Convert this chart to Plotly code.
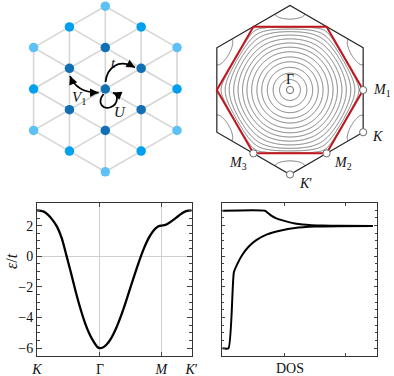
import numpy as np
import plotly.graph_objects as go

# ---- band structure along K - Gamma - M - K'
path_ticks = [0.0, 0.407, 0.804, 1.0]
path_labels = ['<i>K</i>', 'Γ', '<i>M</i>', '<i>K</i>′']
band_x = [0, 0.04, 0.07, 0.10, 0.13, 0.16, 0.19, 0.22, 0.25, 0.28, 0.31, 0.34, 0.37, 0.39,
          0.407, 0.425, 0.45, 0.48, 0.51, 0.54, 0.57, 0.60, 0.63, 0.66, 0.69, 0.72, 0.75,
          0.78, 0.804, 0.83, 0.86, 0.90, 0.94, 0.97, 1.0]
band_e = [3.0, 2.93, 2.72, 2.38, 1.92, 1.18, 0.06, -1.1, -2.3, -3.4, -4.35, -5.1, -5.65, -5.93,
          -6.0, -5.96, -5.77, -5.35, -4.74, -3.98, -3.11, -2.17, -1.23, -0.33, 0.48, 1.15, 1.64,
          1.93, 2.0, 2.05, 2.22, 2.52, 2.82, 2.96, 3.0]
e_ticks = [-6, -4, -2, 0, 2]

# ---- DOS panel curves
dos_upper_x = [0, 0.276, 0.30, 0.32, 0.35, 0.385, 0.43, 0.47, 0.52, 0.58, 0.65, 0.75, 0.974]
dos_upper_e = [2.96, 2.96, 2.78, 2.63, 2.47, 2.35, 2.22, 2.13, 2.06, 2.02, 2.0, 1.98, 1.97]
dos_lower_x = [0, 0.04, 0.075, 0.10, 0.13, 0.17, 0.22, 0.29, 0.38, 0.47, 0.60, 0.75, 0.974]
dos_lower_e = [-6.0, -6.0, -1.05, -0.45, 0.1, 0.62, 1.05, 1.42, 1.68, 1.84, 1.93, 1.96, 1.97]

# ---- triangular lattice: colour per neighbour shell (onsite+NN, sqrt3, 2)
shell_colors = ['#1170b4', '#00a0ee', '#5ec1f5']
hopping = 1.0

# ---- Brillouin zone contour levels (energies) and labelled points
ring_levels = [-5.6, -5.0, -4.25, -3.4, -2.6, -1.7, -0.9, -0.2, 0.45, 1.0, 1.45, 1.75, 1.93, 2.6]
hs_names = ['Γ', '<i>M</i><sub>1</sub>', '<i>K</i>', '<i>M</i><sub>2</sub>', '<i>K</i>′', '<i>M</i><sub>3</sub>']
hs_kind = ['G', 'M', 'K', 'M', 'K', 'M']
hs_angle = [0, 0, -30, -60, -90, -120]

SERIF = 'Liberation Serif'
W, H = 394, 376

fig = go.Figure()

# ---------------- lattice panel ----------------
a_vecs = np.array([[0.0, 1.0], [np.sqrt(3) / 2, 0.5]])
sites, cols = [], []
for n1 in range(-3, 4):
    for n2 in range(-3, 4):
        p = n1 * a_vecs[0] + n2 * a_vecs[1]
        d = np.hypot(*p)
        if d < 2.01:
            sites.append(p)
            cols.append(shell_colors[0] if d < 1.01 else shell_colors[1] if d < 1.8 else shell_colors[2])
sites = np.array(sites)
bx, by = [], []
for i in range(len(sites)):
    for j in range(i + 1, len(sites)):
        if abs(np.hypot(*(sites[i] - sites[j])) - 1) < 1e-6:
            bx += [sites[i][0], sites[j][0], None]
            by += [sites[i][1], sites[j][1], None]
fig.add_trace(go.Scatter(x=bx, y=by, mode='lines', line=dict(color='#d6d6d6', width=1.6),
                         xaxis='x', yaxis='y', hoverinfo='skip'))
fig.add_trace(go.Scatter(x=sites[:, 0], y=sites[:, 1], mode='markers',
                         marker=dict(size=9.5, color=cols), xaxis='x', yaxis='y'))

# ---------------- Brillouin zone panel ----------------
kx = np.linspace(-3.8, 3.8, 230)
ky = np.linspace(-4.35, 4.35, 260)
KX, KY = np.meshgrid(kx, ky)
nn = [(0, 1), (np.sqrt(3) / 2, 0.5), (np.sqrt(3) / 2, -0.5)]
eps = -2 * hopping * sum(np.cos(KX * ax_ + KY * ay_) for ax_, ay_ in nn)
lv = np.arange(1, len(ring_levels) + 1)
zmap = np.interp(eps, [-7] + ring_levels + [4], np.concatenate([[0], lv, [len(lv) + 1]]))
fig.add_trace(go.Contour(x=kx, y=ky, z=np.round(zmap, 3), xaxis='x2', yaxis='y2',
                         contours=dict(coloring='none', start=1, end=len(ring_levels), size=1),
                         line=dict(color='#7a7a7a', width=1), showscale=False, hoverinfo='skip'))

rK = 4 * np.pi / 3
rM = 2 * np.pi / np.sqrt(3)
hexK = [(rK * np.cos(np.radians(30 + 60 * j)), rK * np.sin(np.radians(30 + 60 * j))) for j in range(6)]
hexM = [(rM * np.cos(np.radians(60 * j)), rM * np.sin(np.radians(60 * j))) for j in range(6)]


def poly(pts):
    return 'M ' + ' L '.join(f'{x:.4f},{y:.4f}' for x, y in pts) + ' Z'


shapes = []
shapes.append(dict(type='path', xref='x2', yref='y2', layer='above', fillrule='evenodd',
                   path='M -20,-20 L 20,-20 L 20,20 L -20,20 Z ' + poly(hexK),
                   fillcolor='white', line=dict(width=0)))
shapes.append(dict(type='path', xref='x2', yref='y2', layer='above', path=poly(hexK),
                   line=dict(color='#222222', width=1.2)))
shapes.append(dict(type='path', xref='x2', yref='y2', layer='above', path=poly(hexM),
                   line=dict(color='#c0161c', width=2)))

annotations = []
label_off = {'Γ': (0, 11, 'center'), '<i>M</i><sub>1</sub>': (8, 0, 'left'), '<i>K</i>': (7, -4, 'left'),
             '<i>M</i><sub>2</sub>': (5, -10, 'left'), '<i>K</i>′': (7, -9, 'left'),
             '<i>M</i><sub>3</sub>': (-4, -10, 'right')}
for name, kind, ang in zip(hs_names, hs_kind, hs_angle):
    r = 0 if kind == 'G' else (rM if kind == 'M' else rK)
    px, py = r * np.cos(np.radians(ang)), r * np.sin(np.radians(ang))
    shapes.append(dict(type='circle', xref='x2', yref='y2', layer='above', xsizemode='pixel',
                       ysizemode='pixel', xanchor=px, yanchor=py, x0=-3.6, x1=3.6, y0=-3.6, y1=3.6,
                       fillcolor='white', line=dict(color='#6a6a6a', width=1)))
    dx, dy, anc = label_off[name]
    annotations.append(dict(x=px, y=py, xref='x2', yref='y2', text=name, showarrow=False,
                            xshift=dx, yshift=dy, xanchor=anc, font=dict(family=SERIF, size=14, color='#111')))

# ---------------- hopping arrows on the lattice ----------------
arrow_paths = [
    'M 0.005,0.169 C 0.041,0.507 0.307,0.749 0.717,0.519',
    'M -0.853,0.314 Q -0.684,-0.097 -0.164,-0.085',
    'M -0.043,-0.121 C -0.225,-0.362 -0.031,-0.507 0.138,-0.435 C 0.307,-0.362 0.331,-0.145 0.186,-0.085',
]
for p in arrow_paths:
    shapes.append(dict(type='path', xref='x', yref='y', layer='above', path=p,
                       line=dict(color='black', width=1.8)))
heads = [(0.717, 0.519, 0.872, -0.489), (-0.853, 0.314, -0.380, 0.925),
         (-0.164, -0.085, 1.0, 0.023), (0.186, -0.085, -0.924, 0.382)]
for hx, hy, ux, uy in heads:
    annotations.append(dict(x=hx, y=hy, xref='x', yref='y', text='', showarrow=True, arrowhead=2,
                            arrowsize=1.0, arrowwidth=1.7, arrowcolor='black', standoff=0,
                            ax=-ux * 6, ay=uy * 6))
for txt, x, y in [('<i>t</i>', 0.19, 0.63), ('<i>V</i><sub>1</sub>', -0.63, -0.21), ('<i>U</i>', 0.36, -0.55)]:
    annotations.append(dict(x=x, y=y, xref='x', yref='y', text=txt, showarrow=False,
                            font=dict(family=SERIF, size=15, color='#111')))

# ---------------- band panel ----------------
fig.add_trace(go.Scatter(x=band_x, y=band_e, mode='lines', xaxis='x3', yaxis='y3',
                         line=dict(color='black', width=2.3, shape='spline', smoothing=0.6)))

# ---------------- DOS panel ----------------
for xs, es in [(dos_upper_x, dos_upper_e), (dos_lower_x, dos_lower_e)]:
    fig.add_trace(go.Scatter(x=xs, y=es, mode='lines', xaxis='x4', yaxis='y4',
                             line=dict(color='black', width=2, shape='spline', smoothing=0.5)))

annotations.append(dict(x=11 / W, y=1 - 261 / H, xref='paper', yref='paper', text='<i>ε</i>/<i>t</i>',
                        xanchor='center', yanchor='middle', textangle=-90, showarrow=False,
                        font=dict(family=SERIF, size=16, color='#111')))
annotations.append(dict(x=290 / W, y=1 - 368 / H, xref='paper', yref='paper', text='DOS',
                        xanchor='center', yanchor='middle', showarrow=False,
                        font=dict(family=SERIF, size=14, color='#111')))

hidden = dict(visible=False, fixedrange=True)
frame = dict(showline=True, linecolor='#333', linewidth=1, mirror='ticks', ticks='inside',
             tickcolor='#444', zeroline=False, automargin=False)

fig.update_layout(
    width=W, height=H, margin=dict(l=0, r=0, t=0, b=0), autosize=False,
    paper_bgcolor='white', plot_bgcolor='white', showlegend=False,
    font=dict(family=SERIF, size=13, color='#111'),
    xaxis=dict(hidden, anchor='y', domain=[0, 200 / W], range=[-105.3 / 41.4, 94.7 / 41.4]),
    yaxis=dict(hidden, anchor='x', domain=[1 - 185 / H, 1], range=[-96 / 41.4, 89 / 41.4]),
    xaxis2=dict(hidden, anchor='y2', domain=[200 / W, 1], range=[-90 / 20.17, 104 / 20.17]),
    yaxis2=dict(hidden, anchor='x2', domain=[1 - 190 / H, 1], range=[-100 / 20.17, 90 / 20.17]),
    xaxis3=dict(frame, anchor='y3', domain=[37 / W, 191.7 / W], range=[0, 1], tickvals=path_ticks,
                ticktext=path_labels, ticklen=4, showgrid=True, gridcolor='#cfcfcf', gridwidth=1,
                tickfont=dict(family=SERIF, size=14)),
    yaxis3=dict(frame, anchor='x3', domain=[1 - 355.7 / H, 1 - 202.7 / H], range=[-6.5, 3.5],
                tickvals=e_ticks, ticktext=['−6', '−4', '−2', '0', '2'], ticklen=5, showgrid=False,
                zeroline=True, zerolinecolor='#cfcfcf', zerolinewidth=1,
                minor=dict(ticks='inside', ticklen=3, dtick=0.5, tickcolor='#444'),
                tickfont=dict(family=SERIF, size=14)),
    xaxis4=dict(frame, anchor='y4', domain=[222.3 / W, 376.7 / W], range=[0, 1], dtick=0.4, tick0=0,
                ticklen=3, showticklabels=False, showgrid=False),
    yaxis4=dict(frame, anchor='x4', domain=[1 - 356 / H, 1 - 202.5 / H], range=[-6.5, 3.5], dtick=2,
                ticklen=3, showticklabels=False, showgrid=False,
                minor=dict(ticks='inside', ticklen=2, dtick=0.5, tickcolor='#444')),
    shapes=shapes, annotations=annotations,
)

fig.write_html("out.html", config={'displayModeBar': False},
               post_script="document.body.style.margin='0px';")
